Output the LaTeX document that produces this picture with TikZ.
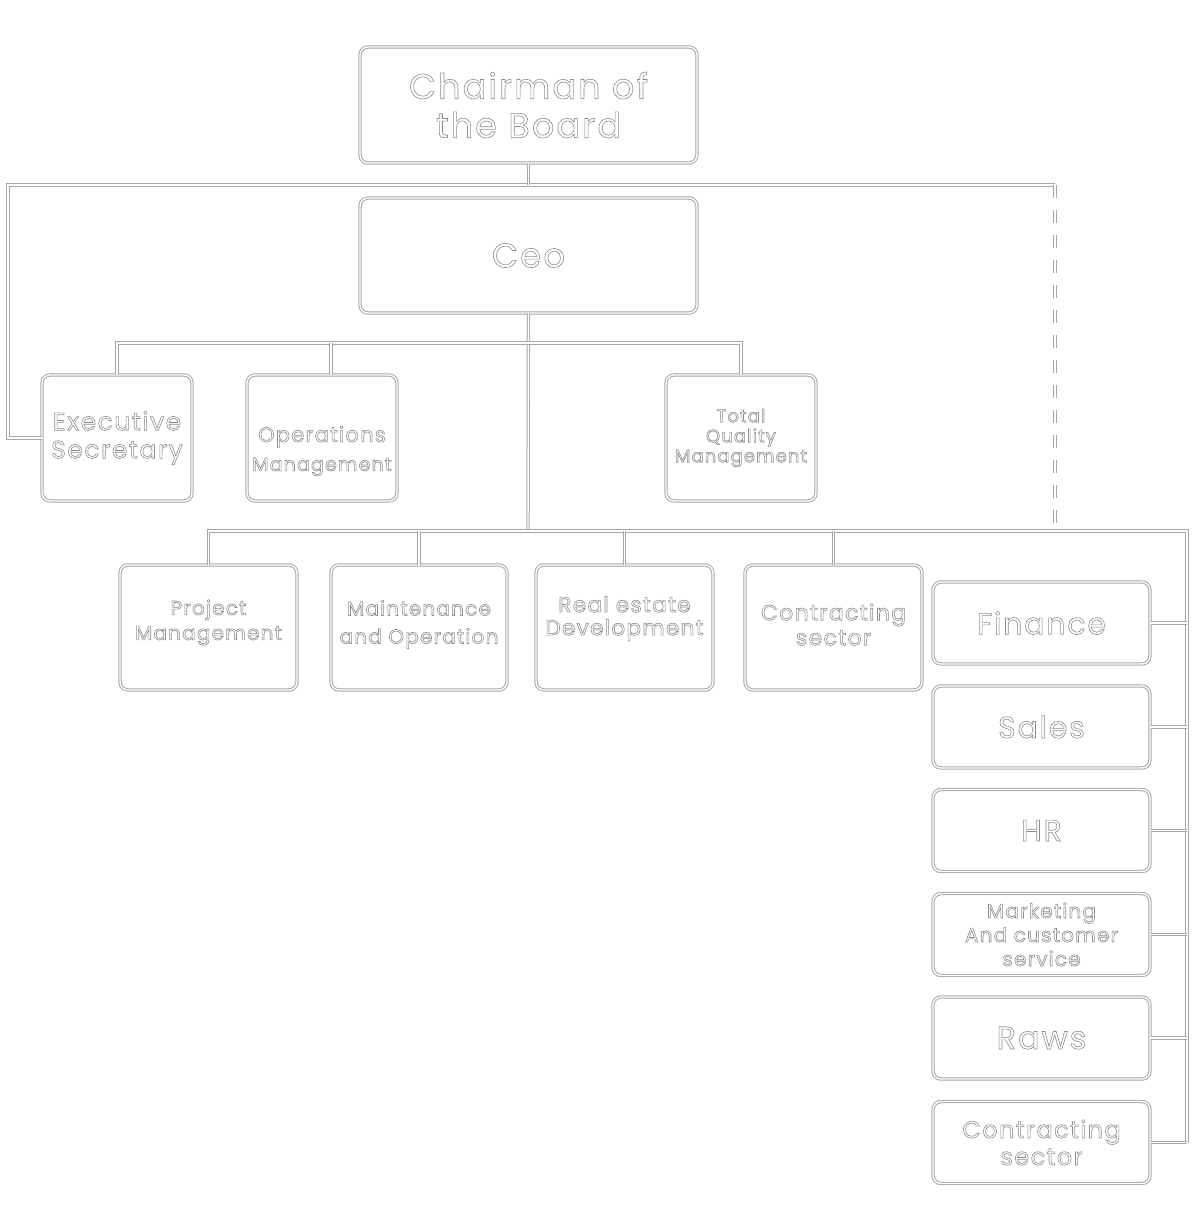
\documentclass[tikz,border=0pt]{standalone}
\usepackage{fontspec}
\setmainfont{Poppins}[LetterSpace=6]
\definecolor{lineclr}{RGB}{172,164,158}
\definecolor{textclr}{RGB}{140,140,140}
% outlined glyphs (stroke only)
\newcommand\outl{\special{pdf:literal direct 1 Tr 0.3 w}}
\newcommand\unoutl{\special{pdf:literal direct 0 Tr}}

\begin{document}
\begin{tikzpicture}[x=0.5pt,y=0.5pt,yscale=-1,
  box/.style={draw=lineclr, line width=0.5pt, double=white, double distance=0.7pt,
    rounded corners=4pt, inner sep=0pt, align=center, text=textclr,
    execute at end node=\unoutl},
  lbl/.style={inner sep=0pt, align=center, text=textclr, execute at end node=\unoutl},
  link/.style={draw=lineclr, line width=0.5pt, double=white, double distance=0.7pt},
  txt/.style 2 args={font={\outl\fontsize{#1}{#2}\selectfont}}]
  \useasboundingbox (0,0) rectangle (1201,1205);

  % Top
  \node[box, txt={17.5pt}{19.5pt}, minimum width=168.5pt, minimum height=58pt] (chair) at (528.5,105) {Chairman of\\the Board};
  \node[box, txt={17pt}{19.5pt}, minimum width=168.5pt, minimum height=57.5pt] (ceo) at (528.5,255.5) {Ceo};

  % First row
  \node[box, txt={12.5pt}{14pt}, minimum width=75pt, minimum height=63pt] (exec) at (117,438) {Executive\\Secretary};
  \node[box, minimum width=75pt, minimum height=63pt] (ops) at (322,438) {};
  \node[lbl, txt={10.5pt}{14.5pt}] (ops-t) at ([yshift=6.5pt]ops.center) {Operations\\{\fontsize{9.5pt}{11pt}\selectfont Management}};
  \node[box, txt={9pt}{10pt}, minimum width=75pt, minimum height=63pt] (tqm) at (741,438) {Total\\Quality\\Management};

  % Second row
  \node[box, minimum width=88.5pt, minimum height=62.5pt] (pm) at (208.5,627.5) {};
  \node[lbl, txt={10pt}{12.5pt}] (pm-t) at ([yshift=-2.5pt]pm.center) {Project\\Management};
  \node[box, minimum width=88pt, minimum height=62.5pt] (mo) at (419,627.5) {};
  \node[lbl, txt={10pt}{14pt}] (mo-t) at ([yshift=-1.5pt]mo.center) {Maintenance\\and Operation};
  \node[box, minimum width=88.5pt, minimum height=62.5pt] (red) at (624.5,627.5) {};
  \node[lbl, txt={10.8pt}{11.5pt}] (red-t) at ([yshift=-4.5pt]red.center) {Real estate\\Development};
  \node[box, minimum width=88.5pt, minimum height=62.5pt] (cs) at (833.5,627.5) {};
  \node[lbl, txt={11pt}{12.5pt}] (cs-t) at ([yshift=-1.5pt]cs.center) {Contracting\\sector};

  % Right column
  \node[box, txt={15pt}{17pt}, minimum width=108.5pt, minimum height=41pt] (fin) at (1041.5,623) {Finance};
  \node[box, txt={15pt}{17pt}, minimum width=108.5pt, minimum height=41pt] (sales) at (1041.5,727) {Sales};
  \node[box, txt={15pt}{17pt}, minimum width=108.5pt, minimum height=41pt] (hr) at (1041.5,830.5) {HR};
  \node[box, txt={10pt}{12pt}, minimum width=108.5pt, minimum height=41pt] (mkt) at (1041.5,934.5) {Marketing\\And customer\\service};
  \node[box, txt={16pt}{17pt}, minimum width=108.5pt, minimum height=41pt] (raws) at (1041.5,1038) {Raws};
  \node[box, txt={12pt}{13.5pt}, minimum width=108.5pt, minimum height=41pt] (cs2) at (1041.5,1142.5) {Contracting\\sector};

  % Bus points
  \coordinate (topL) at (8,185);
  \coordinate (topR) at (1055,185);
  \coordinate (midR) at (1055,531);
  \coordinate (bus1) at (528,343);
  \coordinate (bus2) at (528,531);
  \coordinate (spine) at (1187,531);
  \coordinate (opsdrop) at (331,375);

  % Connectors
  \draw[link] (exec.west) -| (topL) -- (topR);
  \draw[link] (chair.south) -- (chair.south |- topL);
  \draw[link, dash pattern=on 6.5pt off 6pt] (topR) -- (midR);
  \draw[link] (ceo.south) -- (bus2);
  \draw[link] (exec.north) |- (tqm.north |- bus1) -- (tqm.north);
  \draw[link] (opsdrop) -- (opsdrop |- bus1);
  \draw[link] (pm.north) |- (spine) -- (spine |- cs2.east);
  \foreach \n in {mo,red,cs}
    \draw[link] (\n.north) -- (\n.north |- bus2);
  \foreach \n in {fin,sales,hr,mkt,raws,cs2}
    \draw[link] (\n.east) -- (\n.east -| spine);
\end{tikzpicture}
\end{document}
